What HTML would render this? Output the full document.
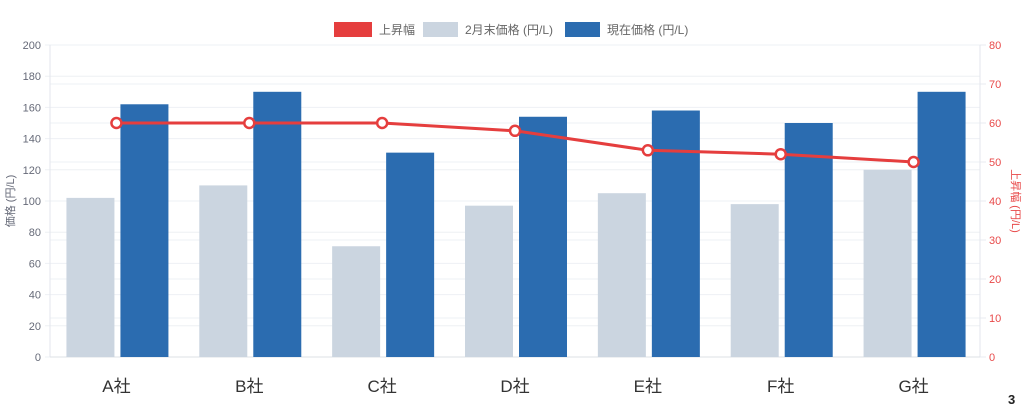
<!DOCTYPE html>
<html><head><meta charset="utf-8"><style>
body{margin:0;background:#fff;width:1024px;height:410px;overflow:hidden;font-family:"Liberation Sans","Noto Sans CJK JP",sans-serif}
</style></head><body>
<svg id="c" width="1024" height="410" xmlns="http://www.w3.org/2000/svg" font-family="Liberation Sans, Noto Sans CJK JP, sans-serif"></svg>
<script>
const categories=["A社","B社","C社","D社","E社","F社","G社"];
const febPrices=[102,110,71,97,105,98,120];
const currentPrices=[162,170,131,154,158,150,170];
const increases=[60,60,60,58,53,52,50];
const leftTicks=[0,20,40,60,80,100,120,140,160,180,200];
const rightTicks=[0,10,20,30,40,50,60,70,80];
const svg=document.getElementById('c');const NS="http://www.w3.org/2000/svg";
const L=50,R=980,T=45,B=357;const cw=(R-L)/categories.length;
const yL=v=>B-(v/200)*(B-T);const yR=v=>B-(v/80)*(B-T);const xc=i=>L+cw*(i+0.5);
function mk(t,a,txt){const e=document.createElementNS(NS,t);for(const k in a)e.setAttribute(k,a[k]);if(txt!==undefined)e.textContent=txt;svg.appendChild(e);return e;}
rightTicks.forEach(v=>{const g=mk('line',{x1:L,x2:R,y1:yR(v),y2:yR(v),stroke:'#eef0f4','stroke-width':1});


const t=mk('text',{x:989,y:yR(v)+4,'font-size':11,fill:'#e84a4a'},v);


mk('line',{x1:R,x2:R+6,y1:yR(v),y2:yR(v),stroke:'#e8ebf0'});});
leftTicks.forEach(v=>{const g=mk('line',{x1:L-5,x2:R,y1:yL(v),y2:yL(v),stroke:'#eef0f4','stroke-width':1});


const t=mk('text',{x:41,y:yL(v)+4,'font-size':11,fill:'#666a78','text-anchor':'end'},v);

});
mk('line',{x1:L,x2:L,y1:T,y2:B,stroke:'#e3e6ec'});mk('line',{x1:R,x2:R,y1:T,y2:B,stroke:'#e3e6ec'});
mk('line',{x1:L,x2:R,y1:B,y2:B,stroke:'#dde0e6'});
categories.forEach((c,i)=>{
const g=mk('rect',{x:xc(i)-50,y:yL(febPrices[i]),width:48,height:B-yL(febPrices[i]),fill:'#cbd5e0'});


const b=mk('rect',{x:xc(i)+4,y:yL(currentPrices[i]),width:48,height:B-yL(currentPrices[i]),fill:'#2b6cb0'});


const t=mk('text',{x:xc(i),y:392,'font-size':17,fill:'#333','text-anchor':'middle'},c);

});
const pts=increases.map((v,i)=>xc(i)+','+yR(v)).join(' ');
const pl=mk('polyline',{points:pts,fill:'none',stroke:'#e53e3e','stroke-width':3});


increases.forEach((v,i)=>{const p=mk('circle',{cx:xc(i),cy:yR(v),r:5,fill:'#fff',stroke:'#e53e3e','stroke-width':2.5});

});
</script>
<svg style="position:absolute;left:0;top:0" width="1024" height="410" xmlns="http://www.w3.org/2000/svg" font-family="Liberation Sans, Noto Sans CJK JP, sans-serif">
<g>
<rect x="334" y="22" width="38" height="15" fill="#e53e3e"/>
<text x="379" y="34" font-size="12" fill="#666">上昇幅</text>
<rect x="423" y="22" width="35" height="15" fill="#cbd5e0"/>
<text x="465" y="34" font-size="12" fill="#666">2月末価格 (円/L)</text>
<rect x="565" y="22" width="35" height="15" fill="#2b6cb0"/>
<text x="607" y="34" font-size="12" fill="#666">現在価格 (円/L)</text>
</g>
<text transform="translate(14,201) rotate(-90)" text-anchor="middle" font-size="11" fill="#666a78">価格 (円/L)</text>
<text transform="translate(1012,201) rotate(90)" text-anchor="middle" font-size="11" fill="#e84a4a">上昇幅 (円/L)</text>
<text x="1008" y="404" font-size="13" font-weight="bold" fill="#222">3</text>
</svg>
</body></html>
